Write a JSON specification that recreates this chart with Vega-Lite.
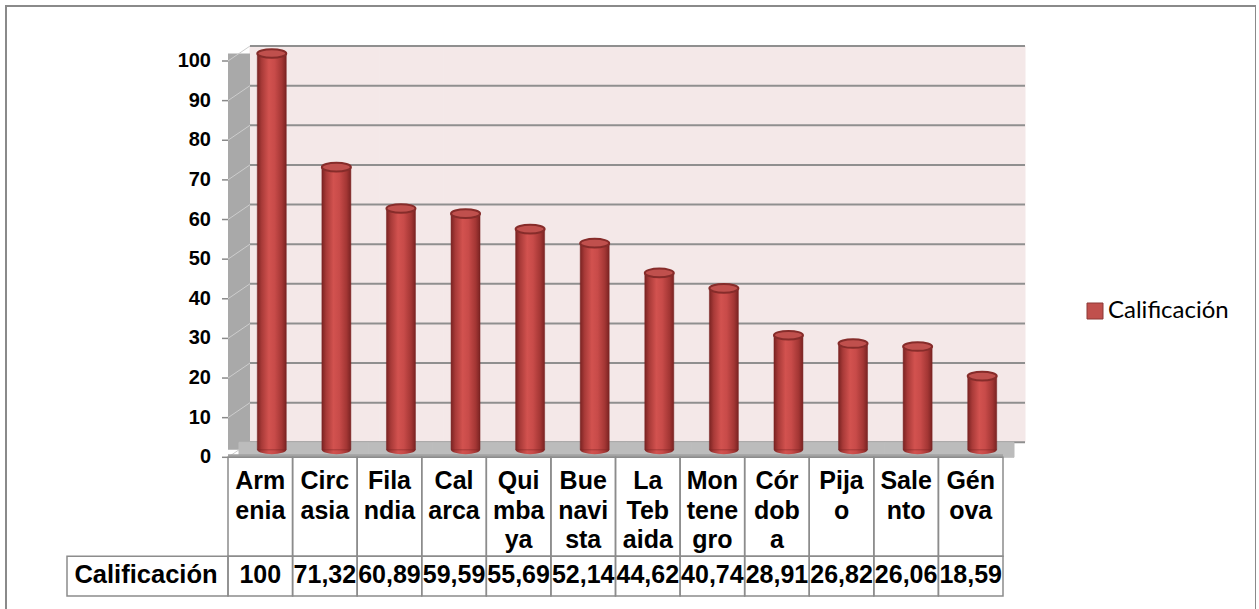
{
  "$schema": "https://vega.github.io/schema/vega-lite/v6.json",
  "autosize": "none",
  "padding": {"left": 6, "top": 6, "right": 0, "bottom": 0},
  "width": 1250,
  "height": 610,
  "background": "white",
  "config": {
    "view": {"stroke": "#8a8a8a", "strokeWidth": 2},
    "locale": {"number": {"decimal": ",", "thousands": ".", "grouping": [3], "currency": ["$", ""]}},
    "font": "Liberation Sans",
    "axisX": {"disable": true},
    "axisY": {"disable": true}
  },
  "datasets": {
    "municipios": [
      {"municipio": "Armenia", "etiqueta": "Arm|enia", "calificacion": 100},
      {"municipio": "Circasia", "etiqueta": "Circ|asia", "calificacion": 71.32},
      {"municipio": "Filandia", "etiqueta": "Fila|ndia", "calificacion": 60.89},
      {"municipio": "Calarca", "etiqueta": "Cal|arca", "calificacion": 59.59},
      {"municipio": "Quimbaya", "etiqueta": "Qui|mba|ya", "calificacion": 55.69},
      {"municipio": "Buenavista", "etiqueta": "Bue|navi|sta", "calificacion": 52.14},
      {"municipio": "La Tebaida", "etiqueta": "La|Teb|aida", "calificacion": 44.62},
      {"municipio": "Montenegro", "etiqueta": "Mon|tene|gro", "calificacion": 40.74},
      {"municipio": "Córdoba", "etiqueta": "Cór|dob|a", "calificacion": 28.91},
      {"municipio": "Pijao", "etiqueta": "Pija|o", "calificacion": 26.82},
      {"municipio": "Salento", "etiqueta": "Sale|nto", "calificacion": 26.06},
      {"municipio": "Génova", "etiqueta": "Gén|ova", "calificacion": 18.59}
    ],
    "marcas": [
      {"valor": 0}, {"valor": 10}, {"valor": 20}, {"valor": 30}, {"valor": 40}, {"valor": 50},
      {"valor": 60}, {"valor": 70}, {"valor": 80}, {"valor": 90}, {"valor": 100}
    ],
    "uno": [{"serie": "Calificación"}]
  },
  "data": {"name": "municipios"},
  "layer": [
    {
      "mark": {"type": "rect", "fill": "#f4e8e8", "stroke": "#f4e8e8", "strokeWidth": 1, "xOffset": 22, "yOffset": -15, "y2Offset": -15},
      "encoding": {
        "x": {"field": "municipio", "type": "nominal", "sort": null, "axis": null,
              "scale": {"type": "band", "range": [222, 997], "paddingInner": 0, "paddingOuter": 0}},
        "y": {"datum": 0, "type": "quantitative", "axis": null,
              "scale": {"domain": [-35, 100], "range": [590, 55], "nice": false, "zero": false}},
        "y2": {"datum": 100}
      }
    },
    {
      "data": {"name": "marcas"},
      "mark": {"type": "rule", "color": "#8f8f8f", "strokeWidth": 2, "xOffset": 22, "x2Offset": 22, "yOffset": -15},
      "encoding": {
        "x": {"datum": "Armenia", "type": "nominal", "bandPosition": 0},
        "x2": {"datum": "Génova", "bandPosition": 1},
        "y": {"field": "valor", "type": "quantitative", "axis": null}
      }
    },
    {
      "data": {"name": "uno"},
      "mark": {"type": "rule", "color": "#a9a9a9", "strokeWidth": 22, "xOffset": 11, "yOffset": -7.5, "y2Offset": -7.5},
      "encoding": {
        "x": {"datum": "Armenia", "type": "nominal", "bandPosition": 0},
        "y": {"datum": 0, "type": "quantitative", "axis": null},
        "y2": {"datum": 100}
      }
    },
    {
      "data": {"name": "marcas"},
      "mark": {"type": "rule", "color": "#cdcdcd", "strokeWidth": 1, "x2Offset": 22, "y2Offset": -15},
      "encoding": {
        "x": {"datum": "Armenia", "type": "nominal", "bandPosition": 0},
        "x2": {"datum": "Armenia", "bandPosition": 0},
        "y": {"field": "valor", "type": "quantitative", "axis": null},
        "y2": {"field": "valor"}
      }
    },
    {
      "data": {"name": "marcas"},
      "mark": {"type": "rule", "color": "#8a8a8a", "strokeWidth": 1.5, "xOffset": -6},
      "encoding": {
        "x": {"datum": "Armenia", "type": "nominal", "bandPosition": 0},
        "x2": {"datum": "Armenia", "bandPosition": 0},
        "y": {"field": "valor", "type": "quantitative", "axis": null}
      }
    },
    {
      "data": {"name": "marcas"},
      "mark": {"type": "text", "font": "Liberation Sans", "fontSize": 20, "fontWeight": "bold", "color": "#000000",
               "align": "right", "baseline": "middle", "xOffset": -17},
      "encoding": {
        "x": {"datum": "Armenia", "type": "nominal", "bandPosition": 0},
        "y": {"field": "valor", "type": "quantitative", "axis": null},
        "text": {"field": "valor", "type": "quantitative", "format": "d"}
      }
    },
    {
      "mark": {"type": "rect", "fill": "#bcbcbc", "stroke": "#bcbcbc", "strokeWidth": 1, "xOffset": 11, "y2Offset": -15},
      "encoding": {
        "x": {"field": "municipio", "type": "nominal", "sort": null},
        "y": {"datum": 0, "type": "quantitative", "axis": null},
        "y2": {"datum": 0}
      }
    },
    {
      "data": {"name": "uno"},
      "mark": {"type": "rule", "color": "#a2a2a2", "strokeWidth": 3, "yOffset": -1.5},
      "encoding": {
        "x": {"datum": "Armenia", "type": "nominal", "bandPosition": 0},
        "x2": {"datum": "Génova", "bandPosition": 1},
        "y": {"datum": 0, "type": "quantitative", "axis": null}
      }
    },
    {
      "mark": {"type": "point", "shape": "M-1,0A1,0.3,0,1,0,1,0A1,0.3,0,1,0,-1,0Z", "size": 841, "filled": true, "opacity": 1,
               "xOffset": 11.5, "yOffset": -7.5, "strokeWidth": 0,
               "fill": {"gradient": "linear", "x1": 0, "y1": 0, "x2": 1, "y2": 0,
                        "stops": [{"offset": 0, "color": "#7a2322"}, {"offset": 0.15, "color": "#a83a38"}, {"offset": 0.4, "color": "#d2524f"}, {"offset": 0.6, "color": "#c84b49"}, {"offset": 0.85, "color": "#a33634"}, {"offset": 1, "color": "#7a2322"}]}},
      "encoding": {
        "x": {"field": "municipio", "type": "nominal", "sort": null},
        "y": {"datum": 0, "type": "quantitative", "axis": null}
      }
    },
    {
      "mark": {"type": "bar", "width": 29, "xOffset": 11.5, "yOffset": -7.5, "y2Offset": -7.5, "stroke": "#7a2322", "strokeWidth": 0.5,
               "fill": {"gradient": "linear", "x1": 0, "y1": 0, "x2": 1, "y2": 0,
                        "stops": [{"offset": 0, "color": "#7a2322"}, {"offset": 0.15, "color": "#a83a38"}, {"offset": 0.4, "color": "#d2524f"}, {"offset": 0.6, "color": "#c84b49"}, {"offset": 0.85, "color": "#a33634"}, {"offset": 1, "color": "#7a2322"}]}},
      "encoding": {
        "x": {"field": "municipio", "type": "nominal", "sort": null},
        "y": {"field": "calificacion", "type": "quantitative", "axis": null},
        "y2": {"datum": 0}
      }
    },
    {
      "mark": {"type": "point", "shape": "M-1,0A1,0.3,0,1,0,1,0A1,0.3,0,1,0,-1,0Z", "size": 841, "filled": true, "opacity": 1,
               "xOffset": 11.5, "yOffset": -7.5, "stroke": "#862c2a", "strokeWidth": 2},
      "encoding": {
        "x": {"field": "municipio", "type": "nominal", "sort": null},
        "y": {"field": "calificacion", "type": "quantitative", "axis": null},
        "fill": {"datum": "Calificación", "type": "nominal", "scale": {"range": ["#c0504d"]},
                 "legend": {"title": null, "orient": "none", "legendX": 1077, "legendY": 293, "symbolType": "square", "symbolSize": 256,
                            "symbolStrokeColor": "#8c3836", "symbolStrokeWidth": 1, "symbolFillColor": "#c0504d",
                            "labelFont": "Lato", "labelFontSize": 24, "labelColor": "#000000", "labelOffset": 1}}
      }
    },
    {
      "mark": {"type": "rect", "filled": false, "color": "#8c8c8c", "strokeWidth": 1.5},
      "encoding": {
        "x": {"field": "municipio", "type": "nominal", "sort": null},
        "y": {"datum": 0, "type": "quantitative", "axis": null},
        "y2": {"datum": -25}
      }
    },
    {
      "mark": {"type": "rect", "filled": false, "color": "#8c8c8c", "strokeWidth": 1.5},
      "encoding": {
        "x": {"field": "municipio", "type": "nominal", "sort": null},
        "y": {"datum": -25, "type": "quantitative", "axis": null},
        "y2": {"datum": -35}
      }
    },
    {
      "data": {"name": "uno"},
      "mark": {"type": "rect", "filled": false, "color": "#8c8c8c", "strokeWidth": 1.5, "xOffset": -161},
      "encoding": {
        "x": {"datum": "Armenia", "type": "nominal", "bandPosition": 0},
        "x2": {"datum": "Armenia", "bandPosition": 0},
        "y": {"datum": -25, "type": "quantitative", "axis": null},
        "y2": {"datum": -35}
      }
    },
    {
      "mark": {"type": "text", "font": "Liberation Sans", "fontSize": 25, "fontWeight": "bold", "color": "#000000",
               "lineBreak": "|", "lineHeight": 29.5, "baseline": "alphabetic", "align": "center", "dy": 32},
      "encoding": {
        "x": {"field": "municipio", "type": "nominal", "sort": null},
        "y": {"datum": 0, "type": "quantitative", "axis": null},
        "text": {"field": "etiqueta"}
      }
    },
    {
      "mark": {"type": "text", "font": "Liberation Sans", "fontSize": 25, "fontWeight": "bold", "color": "#000000",
               "baseline": "middle", "align": "center"},
      "encoding": {
        "x": {"field": "municipio", "type": "nominal", "sort": null},
        "y": {"datum": -29.8, "type": "quantitative", "axis": null},
        "text": {"field": "calificacion", "type": "quantitative", "format": "~f"}
      }
    },
    {
      "data": {"name": "uno"},
      "mark": {"type": "text", "font": "Liberation Sans", "fontSize": 25.5, "fontWeight": "bold", "color": "#000000",
               "baseline": "middle", "align": "center", "xOffset": -82},
      "encoding": {
        "x": {"datum": "Armenia", "type": "nominal", "bandPosition": 0},
        "y": {"datum": -29.8, "type": "quantitative", "axis": null},
        "text": {"field": "serie"}
      }
    }
  ]
}
